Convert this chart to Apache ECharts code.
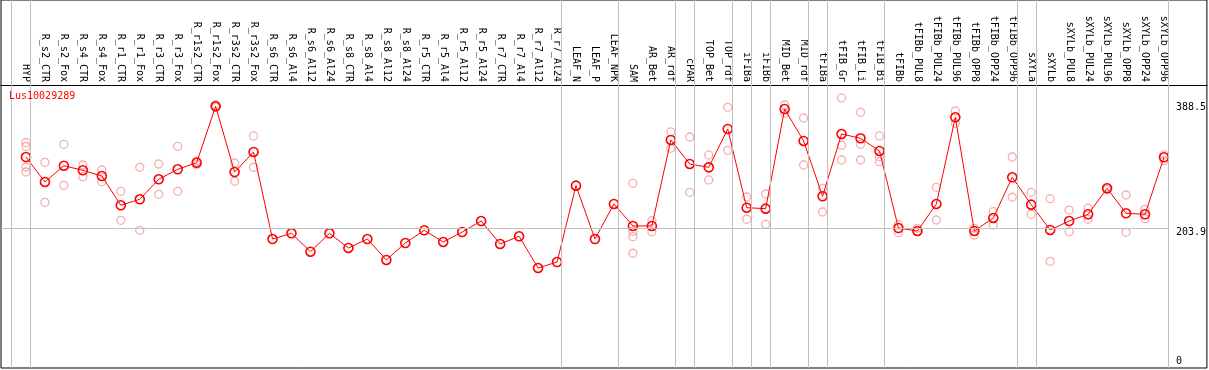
<!DOCTYPE html>
<html>
<head>
<meta charset="utf-8">
<script src="https://cdn.jsdelivr.net/npm/echarts@6/dist/echarts.min.js"></script>
<style>
html,body{margin:0;padding:0;background:#fff;}
#chart{width:1209px;height:370px;}
</style>
</head>
<body>
<div id="chart"></div>
<script>
const categories = ["HYP","R_s2_CTR","R_s2_Fox","R_s4_CTR","R_s4_Fox","R_r1_CTR","R_r1_Fox","R_r3_CTR","R_r3_Fox","R_r1s2_CTR","R_r1s2_Fox","R_r3s2_CTR","R_r3s2_Fox","R_s6_CTR","R_s6_Al4","R_s6_Al12","R_s6_Al24","R_s8_CTR","R_s8_Al4","R_s8_Al12","R_s8_Al24","R_r5_CTR","R_r5_Al4","R_r5_Al12","R_r5_Al24","R_r7_CTR","R_r7_Al4","R_r7_Al12","R_r7_Al24","LEAF_N","LEAF_P","LEAF_NPK","SAM","AR_Bet","AR_rdf","cPAR","TOP_Bet","TOP_rdf","iFIBa","iFIBb","MID_Bet","MID_rdf","tFIBa","tFIB_Gr","tFIB_Li","tFIB_Bi","tFIBb","tFIBb_PUL8","tFIBb_PUL24","tFIBb_PUL96","tFIBb_OPP8","tFIBb_OPP24","tFIBb_OPP96","sXYLa","sXYLb","sXYLb_PUL8","sXYLb_PUL24","sXYLb_PUL96","sXYLb_OPP8","sXYLb_OPP24","sXYLb_OPP96"];

const meanValues = [308.9,272.1,296.1,289.3,280.9,237.8,246.6,276.1,290.8,300.5,383.6,286.8,316.3,188.1,196.5,169.4,196.5,174.9,188.1,157.2,182.2,200.9,183.7,198.4,214.6,180.8,192.1,145.4,154.2,266.7,188.1,239.7,207.3,207.3,334.0,298.6,293.7,350.2,234.2,232.8,379.6,332.5,251.0,342.8,336.5,317.8,204.3,199.9,239.7,367.4,199.9,219.1,279.0,238.7,201.4,214.6,224.5,262.8,226.0,224.5,308.5];

const replicateValues = [
  [330.3,324.4,294.2,286.8],[301.1,242.2],[327.6,267.2],[297.1,279.9],[289.8,272.5],
  [258.4,215.7],[293.7,200.9],[298.6,254.0],[324.7,258.4],[303,298],
  [385.5,382],[300.1,273.1],[339.9,293.7],[],[],
  [],[],[],[],[],
  [],[],[],[],[],
  [],[],[],[],[],
  [],[],[270.2,199.5,191.6,167.1],[215.1,198.9],[345.8,321.7],
  [338.4,256.9],[311.9,275.1],[382.1,318.8],[250.0,217.2],[254.4,209.8],
  [385.5,373.3],[366.4,297.1],[262.8,227.9],[395.9,326.2,304.5],[374.8,327.6,304.5],
  [339.9,309.4,302.0],[209.2,197.4],[203.9,198.9],[264.3,216.1],[376.7,358.6],
  [203.9,194.0],[228.3,208.7],[308.9,249.6],[256.9,224.5],[247.5,155.3],
  [230.8,198.9],[233.4,217.2],[264,261],[252.9,198.0],[231.9,218.0],
  [311.9,303.5]
];

const geneName = "Lus10029289";
const yTickLabels = [203.9, 388.5];
const yZeroLabel = [0];
const groupLastIndex = [-1,0,28,31,34,35,37,38,39,41,42,45,52,53,60];

const font = "'DejaVu Sans Mono', monospace";
const xMin = -1.3158, xMax = 62.263;
const yMin = -1.92, yMax = 540.2;

const meanData = meanValues.map((v, i) => [i, v]);
const repData = [];
replicateValues.forEach((arr, i) => arr.forEach(v => repData.push([i, v])));

const vLines = groupLastIndex.map(i => ({ xAxis: i + 0.2368 }));
const hLine = [[{ coord: [xMin, 203.9] }, { coord: [60.2368, 203.9] }]];

const chart = echarts.init(document.getElementById('chart'), null, { renderer: 'canvas' });
chart.setOption({
  animation: false,
  backgroundColor: '#ffffff',
  title: {
    text: geneName, left: 9, top: 91, padding: 0,
    textStyle: { color: '#ff0000', fontSize: 10, fontWeight: 'normal', fontFamily: font }
  },
  grid: { left: 1, top: 0, width: 1208, height: 368, show: true, borderColor: '#000', borderWidth: 1, backgroundColor: 'transparent' },
  xAxis: {
    type: 'value', min: xMin, max: xMax, position: 'top', offset: -85,
    axisLine: { show: true, onZero: false, lineStyle: { color: '#000', width: 1 } },
    axisTick: { show: false },
    splitLine: { show: false },
    axisLabel: {
      customValues: categories.map((c, i) => i),
      formatter: v => categories[Math.round(v)] || '',
      rotate: 90, margin: 3, fontSize: 10, color: '#000', fontFamily: font, hideOverlap: false,
      padding: [3, 0, 0, 0]
    }
  },
  yAxis: [
    {
      type: 'value', min: yMin, max: yMax, position: 'right', offset: -35,
      axisLine: { show: false }, axisTick: { show: false }, splitLine: { show: false },
      axisLabel: { customValues: yTickLabels, formatter: v => String(v), margin: 4, fontSize: 10, color: '#000', fontFamily: font, verticalAlign: 'top', align: 'left', padding: [-1,0,0,0] }
    },
    {
      type: 'value', min: yMin, max: yMax, position: 'right', offset: -35,
      axisLine: { show: false }, axisTick: { show: false }, splitLine: { show: false },
      axisLabel: { customValues: yZeroLabel, formatter: v => String(v), margin: 4, fontSize: 10, color: '#000', fontFamily: font, verticalAlign: 'bottom', align: 'left' }
    }
  ],
  series: [
    {
      type: 'line', data: [], z: 1, silent: true,
      markLine: {
        silent: true, symbol: 'none', animation: false,
        label: { show: false },
        lineStyle: { color: '#c0c0c0', width: 1, type: 'solid' },
        emphasis: { disabled: true },
        data: vLines.concat(hLine)
      }
    },
    {
      type: 'scatter', data: repData, z: 2, symbol: 'circle', symbolSize: 8,
      itemStyle: { color: 'rgba(0,0,0,0)', borderColor: '#f09a9a', borderWidth: 1.3 }
    },
    {
      type: 'line', data: meanData, z: 3, symbol: 'circle', symbolSize: 9,
      lineStyle: { color: '#ff0000', width: 1 },
      itemStyle: { color: 'rgba(0,0,0,0)', borderColor: '#ff0000', borderWidth: 1.6 }
    }
  ]
});
</script>
</body>
</html>
